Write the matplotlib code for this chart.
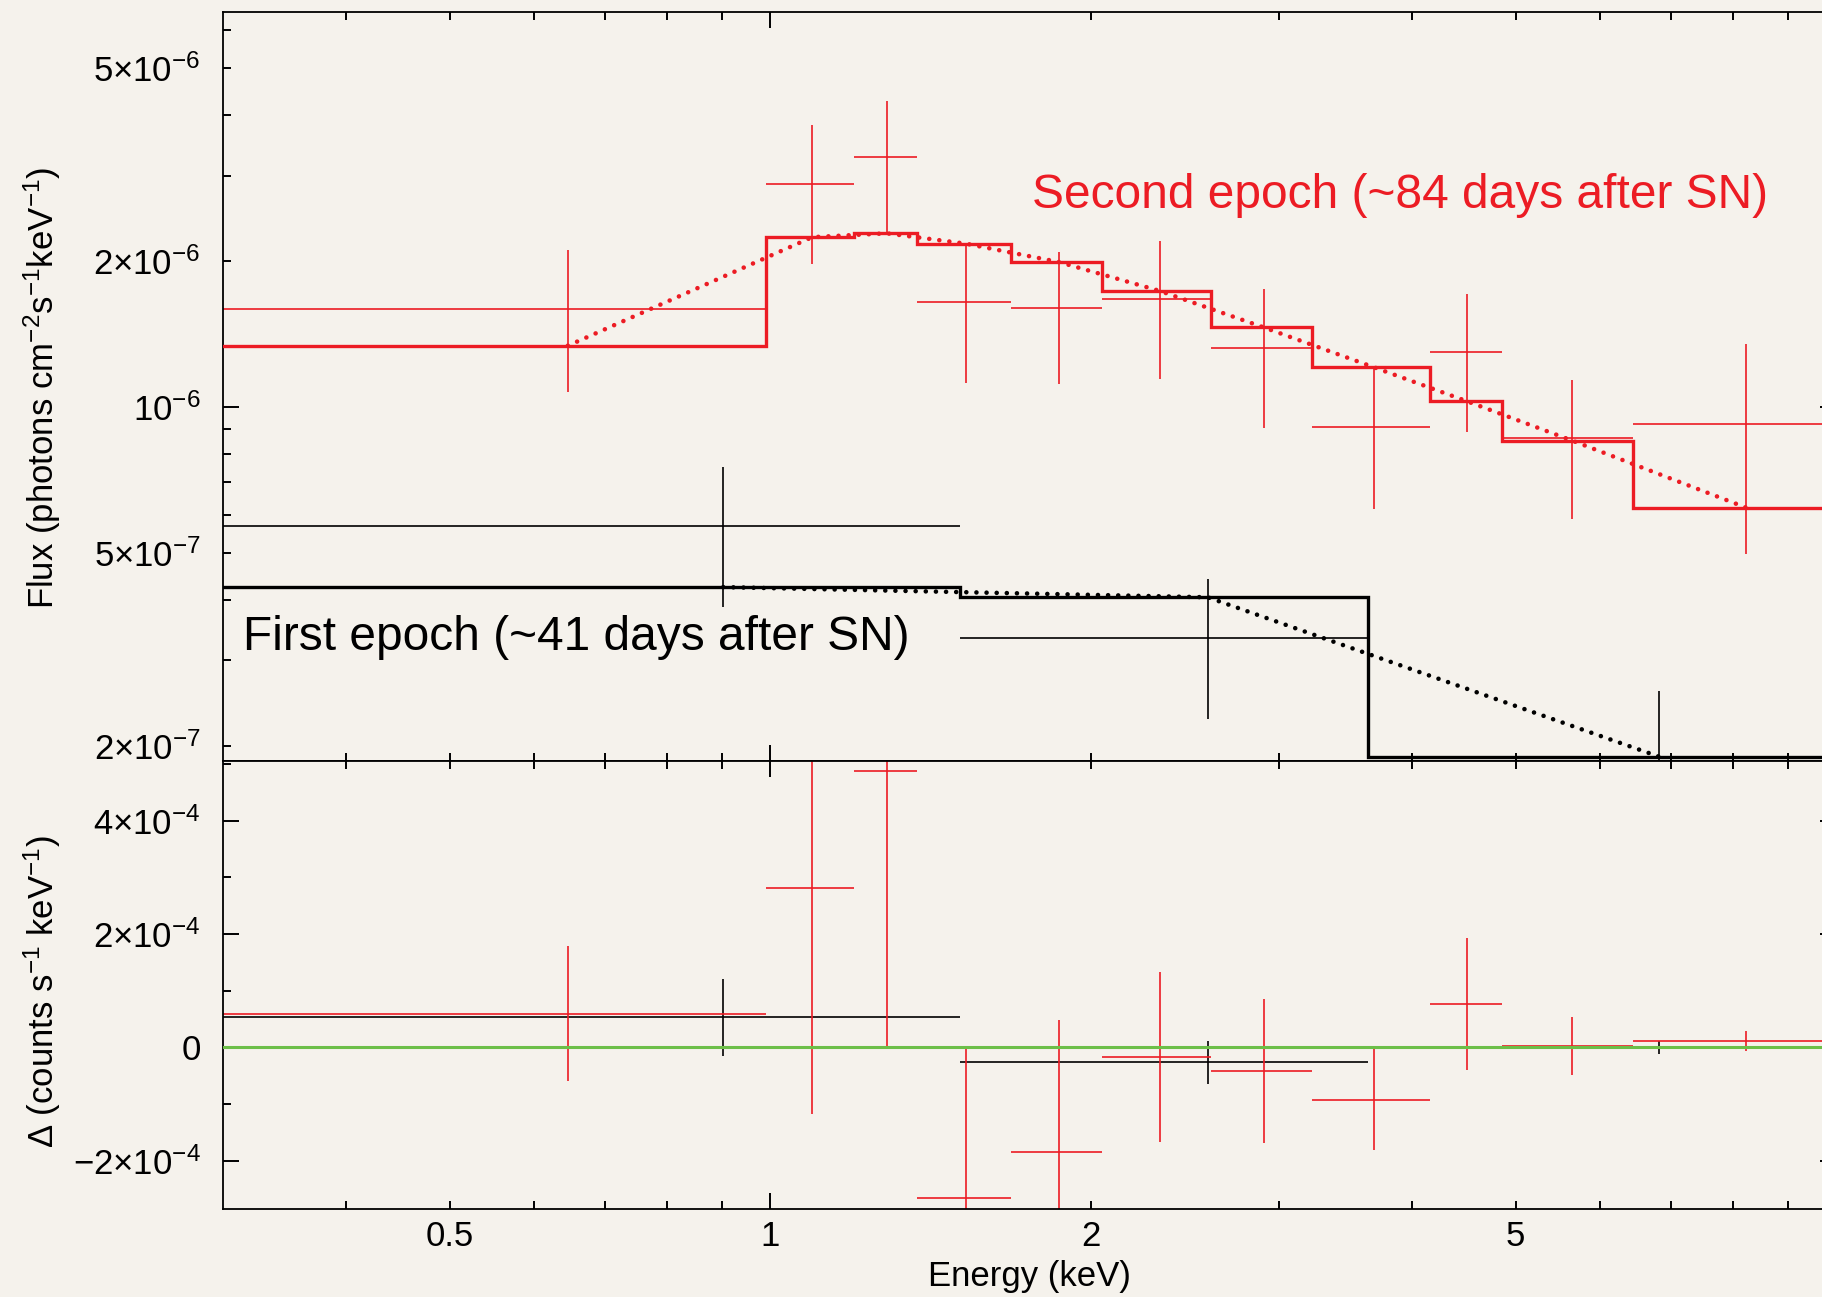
import numpy as np
import matplotlib
matplotlib.use("Agg")
import matplotlib.pyplot as plt
from matplotlib.ticker import FixedLocator, FuncFormatter, NullFormatter

# ---------------------------------------------------------------------------
# Second epoch (~84 days): energy bins (keV), unfolded flux, model, residuals
# ---------------------------------------------------------------------------
red_edges = [0.30, 0.991, 1.198, 1.373, 1.68, 2.047, 2.588, 3.22, 4.152, 4.853, 6.45, 10.0]
red_flux = [1.59e-6, 2.887e-6, 3.27e-6, 1.649e-6, 1.60e-6, 1.67e-6,
            1.325e-6, 9.11e-7, 1.30e-6, 8.62e-7, 9.22e-7]
red_flux_err = [0.515e-6, 0.92e-6, 1.0e-6, 0.53e-6, 0.485e-6, 0.53e-6,
                0.422e-6, 0.296e-6, 0.413e-6, 0.274e-6, 0.424e-6]
red_model = [1.337e-6, 2.239e-6, 2.28e-6, 2.17e-6, 1.99e-6, 1.735e-6,
             1.458e-6, 1.206e-6, 1.027e-6, 8.52e-7, 6.2e-7]
red_resid = [5.93e-5, 2.805e-4, 4.88e-4, -2.66e-4, -1.843e-4, -1.69e-5,
             -4.11e-5, -9.23e-5, 7.68e-5, 3.0e-6, 1.1e-5]
red_resid_err = [1.19e-4, 3.97e-4, 4.85e-4, 2.63e-4, 2.33e-4, 1.5e-4,
                 1.27e-4, 8.9e-5, 1.16e-4, 5.1e-5, 1.73e-5]

# ---------------------------------------------------------------------------
# First epoch (~41 days)
# ---------------------------------------------------------------------------
black_edges = [0.30, 1.506, 3.637, 10.0]
black_flux = [5.69e-7, 3.34e-7, 1.6e-7]
black_flux_err = [1.82e-7, 1.07e-7, 0.99e-7]
black_model = [4.25e-7, 4.05e-7, 1.9e-7]
black_resid = [5.33e-5, -2.6e-5, 0.0]
black_resid_err = [6.8e-5, 3.75e-5, 1.1e-5]

# Axis ticks and labels
energy_major = [1.0]
energy_minor = [0.4, 0.5, 0.6, 0.7, 0.8, 0.9, 2, 3, 4, 5, 6, 7, 8, 9]
energy_labels = {0.5: "0.5", 1.0: "1", 2.0: "2", 5.0: "5"}

flux_major = [1e-6]
flux_minor = [2e-7, 3e-7, 4e-7, 5e-7, 6e-7, 7e-7, 8e-7, 9e-7,
              2e-6, 3e-6, 4e-6, 5e-6, 6e-6]
flux_labels = {2e-7: r"$2{\times}10^{-7}$", 5e-7: r"$5{\times}10^{-7}$",
               1e-6: r"$10^{-6}$", 2e-6: r"$2{\times}10^{-6}$",
               5e-6: r"$5{\times}10^{-6}$"}

resid_major = [-2e-4, 0.0, 2e-4, 4e-4]
resid_minor = [-1e-4, 1e-4, 3e-4, 5e-4]
resid_labels = {-2e-4: r"$-2{\times}10^{-4}$", 0.0: "0",
                2e-4: r"$2{\times}10^{-4}$", 4e-4: r"$4{\times}10^{-4}$"}

RED = "#ec1c24"
BLACK = "#000000"
GREEN = "#6cbf48"
BG = "#f5f2ec"

plt.rcParams["font.family"] = ["Liberation Sans", "DejaVu Sans"]
plt.rcParams["mathtext.fontset"] = "custom"
plt.rcParams["mathtext.rm"] = "Liberation Sans"
plt.rcParams["mathtext.it"] = "Liberation Sans:italic"
plt.rcParams["mathtext.bf"] = "Liberation Sans:bold"


def lookup_formatter(table, rel=1e-6):
    def fmt(v, pos=None):
        for key, text in table.items():
            if abs(v - key) <= rel * max(abs(key), 1e-12) + 1e-15:
                return text
        return ""
    return FuncFormatter(fmt)


fig = plt.figure(figsize=(18.22, 12.97), dpi=100, facecolor=BG)
W, H = 1822.0, 1297.0
left, right = 223.0, 1836.5
top_up, split, bot_lo = 11.7, 760.5, 1209.3
ax1 = fig.add_axes([left / W, 1 - split / H, (right - left) / W, (split - top_up) / H])
ax2 = fig.add_axes([left / W, 1 - bot_lo / H, (right - left) / W, (bot_lo - split) / H])

for ax in (ax1, ax2):
    ax.set_facecolor(BG)
    ax.set_xscale("log")
    ax.set_xlim(0.3065, 10.0)
    ax.xaxis.set_major_locator(FixedLocator(energy_major))
    ax.xaxis.set_minor_locator(FixedLocator(energy_minor))
    ax.tick_params(which="both", direction="in", top=True, right=True,
                   width=1.4, color="black")
    ax.tick_params(which="major", length=11.3)
    ax.tick_params(which="minor", length=5.9)
    ax.tick_params(axis="y", which="both", labelsize=25, pad=16)
    ax.tick_params(axis="x", which="both", labelsize=25, pad=8)
    for sp in ax.spines.values():
        sp.set_linewidth(1.3)


def draw_spectrum(ax, edges, flux, err, model, color):
    e = np.asarray(edges)
    centers = 0.5 * (e[:-1] + e[1:])
    half = 0.5 * (e[1:] - e[:-1])
    ax.errorbar(centers, flux, xerr=half, yerr=err, fmt="none",
                ecolor=color, elinewidth=1.2, capsize=0, zorder=2)
    ax.stairs(model, e, baseline=None, color=color, lw=2.4, zorder=3)
    ax.plot(centers, model, color=color, lw=3.3, linestyle=(0, (0.01, 2.2)),
            dash_capstyle="round", zorder=3)


def draw_residuals(ax, edges, resid, err, color):
    e = np.asarray(edges)
    centers = 0.5 * (e[:-1] + e[1:])
    half = 0.5 * (e[1:] - e[:-1])
    ax.errorbar(centers, resid, xerr=half, yerr=err, fmt="none",
                ecolor=color, elinewidth=1.2, capsize=0, zorder=2)


# Upper panel: unfolded spectra with folded model
draw_spectrum(ax1, black_edges, black_flux, black_flux_err, black_model, BLACK)
draw_spectrum(ax1, red_edges, red_flux, red_flux_err, red_model, RED)
ax1.set_yscale("log")
ax1.set_ylim(1.866e-7, 6.53e-6)
ax1.yaxis.set_major_locator(FixedLocator(flux_major))
ax1.yaxis.set_minor_locator(FixedLocator(flux_minor))
ax1.yaxis.set_major_formatter(lookup_formatter(flux_labels))
ax1.yaxis.set_minor_formatter(lookup_formatter(flux_labels))
ax1.xaxis.set_major_formatter(NullFormatter())
ax1.xaxis.set_minor_formatter(NullFormatter())
ax1.set_ylabel(r"Flux (photons cm$^{-2}$s$^{-1}$keV$^{-1}$)", fontsize=25)
ax1.yaxis.set_label_coords(-0.099, 0.4975)

ax1.text(0.0124, 0.1476, "First epoch (~41 days after SN)", transform=ax1.transAxes,
         fontsize=34.5, color=BLACK, ha="left", va="baseline")
ax1.text(0.5014, 0.7374, "Second epoch (~84 days after SN)", transform=ax1.transAxes,
         fontsize=34.5, color=RED, ha="left", va="baseline")

# Lower panel: residuals
draw_residuals(ax2, black_edges, black_resid, black_resid_err, BLACK)
draw_residuals(ax2, red_edges, red_resid, red_resid_err, RED)
ax2.axhline(0.0, color=GREEN, lw=2.2, zorder=4)
ax2.set_ylim(-2.853e-4, 5.06e-4)
ax2.yaxis.set_major_locator(FixedLocator(resid_major))
ax2.yaxis.set_minor_locator(FixedLocator(resid_minor))
ax2.yaxis.set_major_formatter(lookup_formatter(resid_labels))
ax2.yaxis.set_minor_formatter(NullFormatter())
ax2.xaxis.set_major_formatter(lookup_formatter(energy_labels))
ax2.xaxis.set_minor_formatter(lookup_formatter(energy_labels))
ax2.set_ylabel(r"$\Delta$ (counts s$^{-1}$ keV$^{-1}$)", fontsize=25)
ax2.yaxis.set_label_coords(-0.099, 0.485)
ax2.set_xlabel("Energy (keV)", fontsize=25)
ax2.xaxis.set_label_coords(0.5, -0.112)

fig.savefig("out.png", dpi=100, facecolor=BG)
